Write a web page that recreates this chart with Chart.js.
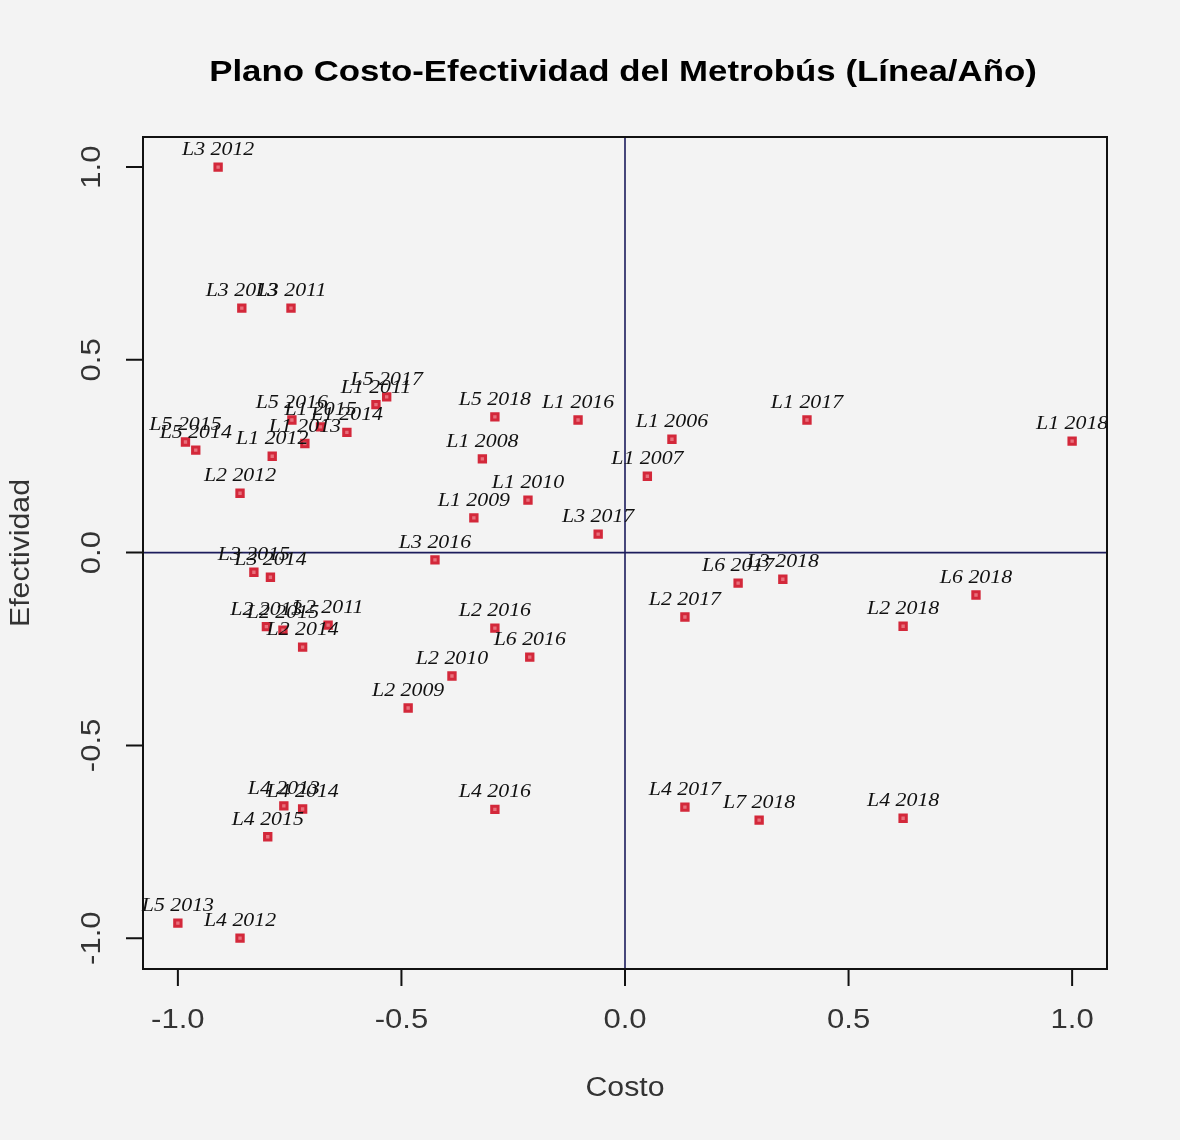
<!DOCTYPE html>
<html>
<head>
<meta charset="utf-8">
<title>Plano Costo-Efectividad del Metrobús</title>
<script src="https://cdn.jsdelivr.net/npm/chart.js@4/dist/chart.umd.min.js"></script>
<style>
    html, body { margin: 0; padding: 0; background: #f3f3f3; }
    canvas { display: block; }
</style>
</head>
<body>
<canvas id="plano" width="1180" height="1140"></canvas>
<script>
// Point labels (line / year)
const etiquetas = [
    'L3 2012', 'L3 2013', 'L3 2011', 'L5 2017', 'L1 2011', 'L5 2016', 'L1 2015', 'L1 2014',
    'L1 2013', 'L1 2012', 'L5 2015', 'L5 2014', 'L2 2012', 'L5 2018', 'L1 2016', 'L1 2008',
    'L1 2010', 'L1 2009', 'L3 2017', 'L3 2016', 'L1 2006', 'L1 2007', 'L1 2017', 'L1 2018',
    'L3 2015', 'L3 2014', 'L2 2013', 'L2 2015', 'L2 2011', 'L2 2014', 'L2 2016', 'L6 2016',
    'L2 2010', 'L2 2009', 'L6 2017', 'L3 2018', 'L6 2018', 'L2 2017', 'L2 2018', 'L4 2013',
    'L4 2014', 'L4 2015', 'L4 2016', 'L4 2017', 'L7 2018', 'L4 2018', 'L5 2013', 'L4 2012'
];

// Cost (x)
const costo = [
    -0.910, -0.857, -0.747, -0.533, -0.557, -0.745, -0.681, -0.622,
    -0.716, -0.789, -0.983, -0.960, -0.861, -0.291, -0.105, -0.319,
    -0.217, -0.338, -0.060, -0.425, 0.105, 0.050, 0.407, 1.000,
    -0.830, -0.793, -0.802, -0.765, -0.664, -0.721, -0.291, -0.213,
    -0.387, -0.485, 0.253, 0.353, 0.785, 0.134, 0.622, -0.763,
    -0.721, -0.799, -0.291, 0.134, 0.300, 0.622, -1.000, -0.861
];

// Effectiveness (y)
const efectividad = [
    1.000, 0.634, 0.634, 0.404, 0.384, 0.344, 0.326, 0.312,
    0.283, 0.250, 0.287, 0.266, 0.154, 0.352, 0.344, 0.243,
    0.136, 0.090, 0.048, -0.019, 0.294, 0.198, 0.344, 0.289,
    -0.051, -0.064, -0.192, -0.201, -0.188, -0.245, -0.196, -0.271,
    -0.320, -0.403, -0.079, -0.069, -0.110, -0.167, -0.191, -0.657,
    -0.665, -0.737, -0.666, -0.660, -0.694, -0.689, -0.961, -1.000
];

// Tick values for both axes
const ticksX = [-1.0, -0.5, 0.0, 0.5, 1.0];
const ticksY = [-1.0, -0.5, 0.0, 0.5, 1.0];

const titulo = 'Plano Costo-Efectividad del Metrobús (Línea/Año)';

// Draw background, quadrant lines, labels and the R-style frame
const planoPlugin = {
    id: 'planoPlugin',
    beforeDraw(chart) {
        const ctx = chart.ctx;
        ctx.save();
        ctx.fillStyle = '#f3f3f3';
        ctx.fillRect(0, 0, chart.width, chart.height);
        ctx.restore();
    },
    beforeDatasetsDraw(chart) {
        const ctx = chart.ctx;
        const a = chart.chartArea;
        const x0 = chart.scales.x.getPixelForValue(0);
        const y0 = chart.scales.y.getPixelForValue(0);
        ctx.save();
        ctx.strokeStyle = '#1c1c5c';
        ctx.lineWidth = 1.6;
        ctx.beginPath();
        ctx.moveTo(x0, a.top);
        ctx.lineTo(x0, a.bottom);
        ctx.moveTo(a.left, y0);
        ctx.lineTo(a.right, y0);
        ctx.stroke();
        ctx.restore();
    },
    afterDatasetsDraw(chart) {
        const ctx = chart.ctx;
        const meta = chart.getDatasetMeta(0);
        ctx.save();
        ctx.font = 'italic 19px "Liberation Serif", "DejaVu Serif", serif';
        ctx.fillStyle = '#111';
        ctx.textAlign = 'center';
        ctx.textBaseline = 'alphabetic';
        meta.data.forEach((pt, i) => {
            ctx.save();
            ctx.translate(pt.x, pt.y - 12);
            ctx.scale(1.15, 1);
            ctx.fillText(etiquetas[i], 0, 0);
            ctx.restore();
        });
        ctx.restore();
    },
    afterDraw(chart) {
        const ctx = chart.ctx;
        const a = chart.chartArea;
        const sx = chart.scales.x;
        const sy = chart.scales.y;
        ctx.save();

        // frame
        ctx.strokeStyle = '#111';
        ctx.lineWidth = 2;
        ctx.strokeRect(a.left, a.top, a.right - a.left, a.bottom - a.top);

        // tick marks
        ctx.beginPath();
        ticksX.forEach(v => {
            const px = sx.getPixelForValue(v);
            ctx.moveTo(px, a.bottom);
            ctx.lineTo(px, a.bottom + 17);
        });
        ticksY.forEach(v => {
            const py = sy.getPixelForValue(v);
            ctx.moveTo(a.left, py);
            ctx.lineTo(a.left - 17, py);
        });
        ctx.stroke();

        // tick labels
        ctx.fillStyle = '#333';
        ctx.font = '27px "Liberation Sans", Arial, sans-serif';
        ctx.textAlign = 'center';
        ctx.textBaseline = 'middle';
        ticksX.forEach(v => {
            ctx.save();
            ctx.translate(sx.getPixelForValue(v), a.bottom + 52);
            ctx.scale(1.15, 1);
            ctx.fillText(v.toFixed(1), 0, 0);
            ctx.restore();
        });
        ticksY.forEach(v => {
            ctx.save();
            ctx.translate(a.left - 50, sy.getPixelForValue(v));
            ctx.rotate(-Math.PI / 2);
            ctx.scale(1.15, 1);
            ctx.fillText(v.toFixed(1), 0, 0);
            ctx.restore();
        });

        // axis titles
        ctx.save();
        ctx.translate((a.left + a.right) / 2, a.bottom + 120);
        ctx.scale(1.12, 1);
        ctx.fillText('Costo', 0, 0);
        ctx.restore();

        ctx.save();
        ctx.translate(22, (a.top + a.bottom) / 2);
        ctx.rotate(-Math.PI / 2);
        ctx.scale(1.12, 1);
        ctx.fillText('Efectividad', 0, 0);
        ctx.restore();

        // main title
        ctx.fillStyle = '#000';
        ctx.font = 'bold 30px "Liberation Sans", Arial, sans-serif';
        ctx.textBaseline = 'alphabetic';
        ctx.save();
        ctx.translate(623, 81);
        ctx.scale(1.16, 1);
        ctx.fillText(titulo, 0, 0);
        ctx.restore();

        ctx.restore();
    }
};

const puntos = costo.map((c, i) => ({ x: c, y: efectividad[i] }));

new Chart(document.getElementById('plano').getContext('2d'), {
    type: 'scatter',
    data: {
        datasets: [{
            label: 'Línea/Año',
            data: puntos,
            pointStyle: 'rect',
            pointRadius: 4.5,
            pointBackgroundColor: '#e8707c',
            pointBorderColor: '#d3283a',
            pointBorderWidth: 3
        }]
    },
    options: {
        responsive: false,
        animation: false,
        devicePixelRatio: 1,
        layout: {
            padding: { left: 143, right: 73, top: 137, bottom: 171 }
        },
        scales: {
            x: { type: 'linear', min: -1.078, max: 1.078, display: false },
            y: { type: 'linear', min: -1.08, max: 1.078, display: false }
        },
        plugins: {
            legend: { display: false },
            tooltip: { enabled: false },
            title: { display: false }
        }
    },
    plugins: [planoPlugin]
});
</script>
</body>
</html>
